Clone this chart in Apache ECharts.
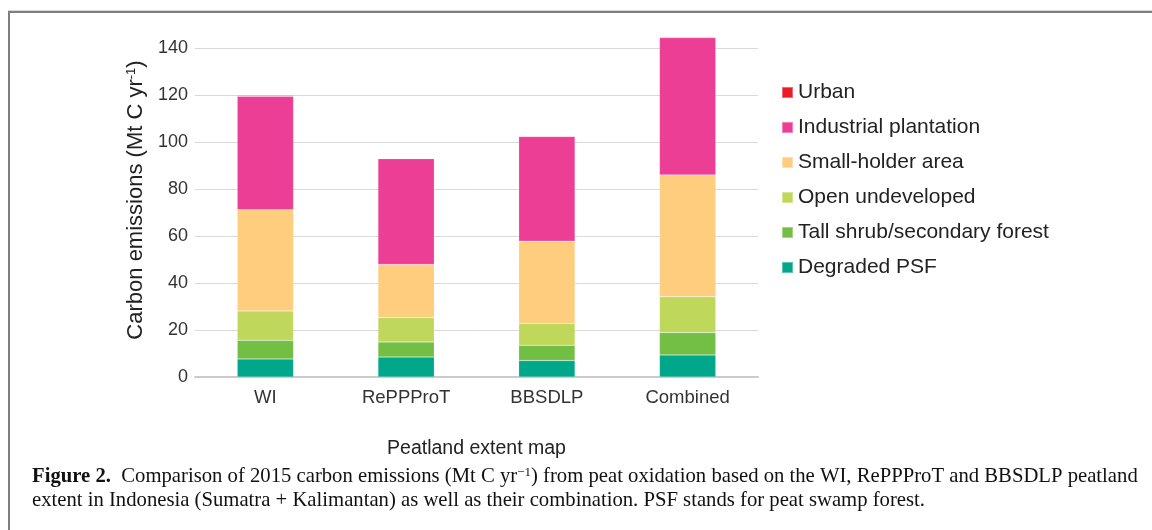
<!DOCTYPE html>
<html>
<head>
<meta charset="utf-8">
<script src="https://cdn.jsdelivr.net/npm/echarts@6/dist/echarts.min.js"></script>
<style>
  html, body { margin: 0; padding: 0; background: #fff; }
  #chart { width: 1152px; height: 530px; }
</style>
</head>
<body>
<div id="chart"></div>
<script>
// peatland extent maps
const categories = ['WI', 'RePPProT', 'BBSDLP', 'Combined']

// emissions per land cover class, Mt C / yr
const degradedPSF = [7.7, 8.5, 7.0, 9.4]
const tallShrub = [7.9, 6.4, 6.5, 9.5]
const openUndeveloped = [12.5, 10.3, 9.4, 15.2]
const smallHolder = [43.1, 22.7, 34.9, 51.9]
const industrial = [48.3, 45.0, 44.5, 58.4]
const urban = [0.3, 0.2, 0.3, 0.3]

const yTicks = [0, 20, 40, 60, 80, 100, 120, 140]

const seriesDefs = [
  { name: 'Degraded PSF', data: degradedPSF, color: '#00a78a' },
  { name: 'Tall shrub/secondary forest', data: tallShrub, color: '#73be44' },
  { name: 'Open undeveloped', data: openUndeveloped, color: '#bfd85b' },
  { name: 'Small-holder area', data: smallHolder, color: '#fecd7e' },
  { name: 'Industrial plantation', data: industrial, color: '#ec3e95' },
  { name: 'Urban', data: urban, color: '#ed1c24' },
]

const chart = echarts.init(document.getElementById('chart'))

const sans = '"Liberation Sans", Arial, sans-serif'
const serif = '"Liberation Serif", "Times New Roman", serif'

const option = {
  backgroundColor: '#fff',
  animation: false,
  grid: { left: 195, right: 394, top: 48, bottom: 153 },
  legend: {
    orient: 'vertical',
    left: 781,
    top: 82,
    padding: 0,
    itemWidth: 11,
    itemHeight: 11,
    itemGap: 14,
    icon: 'rect',
    data: seriesDefs.map((s) => s.name).reverse(),
    textStyle: { fontFamily: sans, fontSize: 21, color: '#222' },
  },
  xAxis: {
    type: 'category',
    data: categories,
    name: 'Peatland extent map',
    nameLocation: 'middle',
    nameGap: 62,
    nameTextStyle: { fontFamily: sans, fontSize: 19.5, color: '#222' },
    axisLine: { lineStyle: { color: '#cbcbcb', width: 2 } },
    axisTick: { show: false },
    axisLabel: { fontFamily: sans, fontSize: 18.5, color: '#333', margin: 11 },
  },
  yAxis: {
    type: 'value',
    min: 0,
    max: yTicks[yTicks.length - 1],
    interval: yTicks[1] - yTicks[0],
    axisLine: { show: false },
    axisTick: { show: false },
    axisLabel: { fontFamily: sans, fontSize: 18, color: '#333', margin: 7 },
    splitLine: { lineStyle: { color: '#d9d9d9', width: 1 } },
  },
  series: seriesDefs.map((s) => ({
    name: s.name,
    type: 'bar',
    stack: 'total',
    clip: false,
    data: s.data,
    barWidth: '40%',
    itemStyle: { color: s.color, borderColor: 'rgba(255,255,255,0.35)', borderWidth: 0.5 },
  })),
  graphic: [
    // figure frame
    { type: 'line', shape: { x1: 8, y1: 10.5, x2: 1152, y2: 10.5 }, style: { stroke: '#d8d8d8', lineWidth: 1 } },
    { type: 'line', shape: { x1: 8, y1: 12, x2: 1152, y2: 12 }, style: { stroke: '#7f7f7f', lineWidth: 2 } },
    { type: 'line', shape: { x1: 9, y1: 11, x2: 9, y2: 530 }, style: { stroke: '#7f7f7f', lineWidth: 2 } },
    // y axis title
    {
      type: 'text',
      x: 136,
      y: 200,
      rotation: Math.PI / 2,
      style: {
        text: '{a|Carbon emissions (Mt C yr}{s|-1}{a|)}',
        align: 'center',
        verticalAlign: 'middle',
        rich: {
          a: { fontFamily: sans, fontSize: 22, fill: '#222' },
          s: { fontFamily: sans, fontSize: 13, fill: '#222', verticalAlign: 'bottom', padding: [0, 0, 10, 0] },
        },
      },
    },
    // caption
    {
      type: 'text',
      left: 32,
      top: 466,
      style: {
        text: '{b|Figure 2.}{t|  Comparison of 2015 carbon emissions (Mt C yr}{s|−1}{t|) from peat oxidation based on the WI, RePPProT and BBSDLP peatland}\n{t|extent in Indonesia (Sumatra + Kalimantan) as well as their combination. PSF stands for peat swamp forest.}',
        rich: {
          b: { fontFamily: serif, fontSize: 20.7, fontWeight: 'bold', fill: '#111', lineHeight: 24 },
          t: { fontFamily: serif, fontSize: 20.7, fill: '#111', lineHeight: 24 },
          s: { fontFamily: serif, fontSize: 13, fill: '#111', verticalAlign: 'bottom', padding: [0, 0, 9, 0], lineHeight: 24 },
        },
      },
    },
  ],
}

chart.setOption(option)
</script>
</body>
</html>
